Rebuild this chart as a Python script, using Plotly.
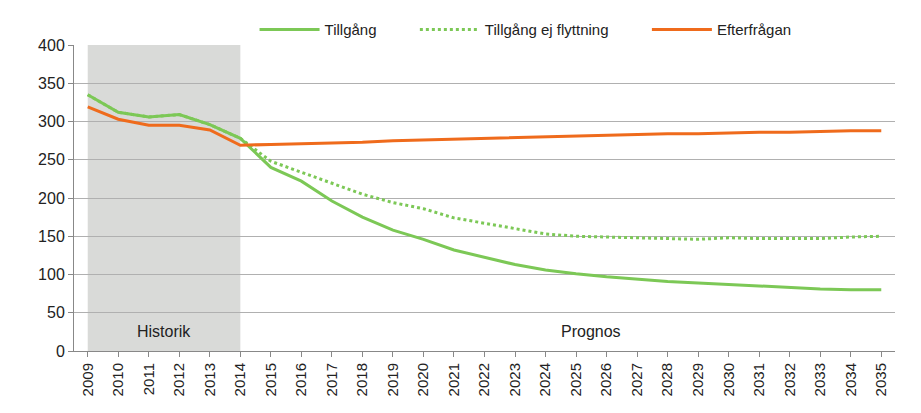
import plotly.graph_objects as go

years = list(range(2009, 2036))
tillgang = [335, 312, 306, 309, 296, 278, 240, 222, 196, 175, 158, 146, 132, 123, 113,
            106, 101, 97, 94, 91, 89, 87, 85, 83, 81, 80, 80]
tillgang_ej_flytt = [335, 312, 306, 309, 296, 278, 248, 234, 219, 205, 194, 186, 174, 167,
                     160, 153, 150, 149, 148, 147, 146, 148, 147, 147, 147, 149, 150]
efterfragan = [319, 303, 295, 295, 289, 269, 270, 271, 272, 273, 275, 276, 277, 278, 279,
               280, 281, 282, 283, 284, 284, 285, 286, 286, 287, 288, 288]

green = "#7cc856"
orange = "#ef6b1c"

fig = go.Figure()
fig.add_vrect(x0=2009, x1=2014, fillcolor="#d9dad8", line_width=0, layer="below")
fig.add_trace(go.Scatter(x=years, y=tillgang, name="Tillgång        ", mode="lines",
                         line=dict(color=green, width=3)))
fig.add_trace(go.Scatter(x=years, y=tillgang_ej_flytt, name="Tillgång ej flyttning        ", mode="lines",
                         line=dict(color=green, width=3, dash="dot")))
fig.add_trace(go.Scatter(x=years, y=efterfragan, name="Efterfrågan", mode="lines",
                         line=dict(color=orange, width=3)))

fig.add_annotation(x=2011.5, y=25, text="Historik", showarrow=False, font=dict(size=16, color="#222"))
fig.add_annotation(x=2025.5, y=25, text="Prognos", showarrow=False, font=dict(size=16, color="#222"))

fig.update_layout(
    width=921, height=413,
    margin=dict(l=66, r=34, t=37, b=70, autoexpand=False),
    plot_bgcolor="white", paper_bgcolor="white",
    font=dict(family="Liberation Sans, Arial", size=15, color="#222"),
    showlegend=True,
    legend=dict(orientation="h", x=0.55, xanchor="center", y=1.05, yanchor="middle",
                font=dict(size=15), itemwidth=60, traceorder="normal"),
    xaxis=dict(range=[2008.55, 2035.45], tickmode="array", tickvals=years,
               ticktext=[str(y) for y in years], tickangle=-90, showgrid=False,
               showline=True, linecolor="#888", ticks="outside", ticklen=5, tickcolor="#888"),
    yaxis=dict(range=[0, 400], dtick=50, showgrid=True, gridcolor="#b0b0b0",
               showline=True, linecolor="#888", ticks="outside", ticklen=5, tickcolor="#888",
               zeroline=False, tickfont=dict(size=16)),
)

fig.write_html("out.html")
